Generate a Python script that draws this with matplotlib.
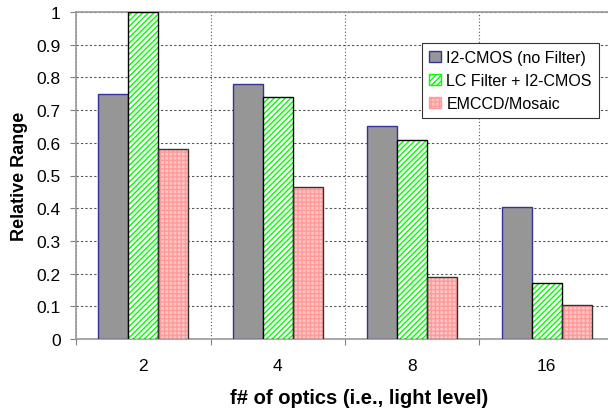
import numpy as np
import matplotlib
matplotlib.use("Agg")
import matplotlib.pyplot as plt
from matplotlib.patches import Patch

plt.rcParams['font.family'] = ['Liberation Sans', 'DejaVu Sans']

# data
categories = ['2', '4', '8', '16']
no_filter = [0.75, 0.78, 0.65, 0.405]
lc_filter = [1.0, 0.74, 0.61, 0.17]
emccd = [0.58, 0.465, 0.19, 0.105]
series_names = ['I2-CMOS (no Filter)', 'LC Filter + I2-CMOS', 'EMCCD/Mosaic']

fig = plt.figure(figsize=(6.08, 4.14), dpi=100)
# plot area runs a little past the right edge of the picture, as in the original
ax = fig.add_axes([76 / 608, 74 / 414, 538 / 608, 327 / 414])

x = np.arange(len(categories))
w = 0.222

ax.bar(x - w, no_filter, w, color='#969696', edgecolor='#333399', linewidth=1, zorder=3)

# green hatched bars: hatch drawn in green, outline in black
ax.bar(x, lc_filter, w, color='white', edgecolor='#00ff00', hatch='//////', linewidth=0, zorder=3)
ax.bar(x, lc_filter, w, fill=False, edgecolor='black', linewidth=1, zorder=4)

# pink dotted bars
ax.bar(x + w, emccd, w, color='#ffc4c4', edgecolor='#ff9a9a', hatch='++++', linewidth=0, zorder=3)
ax.bar(x + w, emccd, w, fill=False, edgecolor='#333333', linewidth=1, zorder=4)

ax.set_xlim(-0.5, 3.5)
ax.set_ylim(0, 1)
ax.set_yticks(np.arange(0, 1.01, 0.1))
ax.set_yticklabels(['0', '0.1', '0.2', '0.3', '0.4', '0.5', '0.6', '0.7', '0.8', '0.9', '1'])

# category boundaries as major ticks, labels on minor ticks
ax.set_xticks([-0.5, 0.5, 1.5, 2.5, 3.5])
ax.set_xticklabels([])
ax.set_xticks(x, minor=True)
ax.set_xticklabels(categories, minor=True)
ax.tick_params(axis='x', which='major', direction='out', length=4, color='#808080')
ax.tick_params(axis='x', which='minor', length=0, pad=14, labelsize=12.5)
ax.tick_params(axis='y', direction='out', length=4, color='#808080', pad=7, labelsize=12.5)

ax.grid(axis='y', linestyle=(0, (2, 2)), color='#555555', linewidth=0.8, zorder=0)
ax.grid(axis='x', which='major', linestyle=(0, (1, 2)), color='#555555', linewidth=0.8, zorder=0)

for side in ['left', 'bottom', 'top']:
    ax.spines[side].set_color('#999999')
    ax.spines[side].set_linewidth(1.2)
ax.spines['right'].set_visible(False)

ax.set_ylabel('Relative Range', fontsize=13, fontweight='bold', labelpad=6)
ax.set_xlabel('f# of optics (i.e., light level)', fontsize=14.5, fontweight='bold', va='center')
ax.xaxis.set_label_coords(0.526, -0.178)

handles = [
    Patch(facecolor='#969696', edgecolor='#333399', label=series_names[0]),
    Patch(facecolor='white', edgecolor='#00ff00', hatch='//////', label=series_names[1]),
    Patch(facecolor='#ffc4c4', edgecolor='#ff9a9a', hatch='++++', label=series_names[2]),
]
leg = ax.legend(handles=handles, loc='upper right', bbox_to_anchor=(599 / 608, 1 - 44 / 414),
                bbox_transform=fig.transFigure, borderaxespad=0, fancybox=False,
                framealpha=1, edgecolor='#333333', fontsize=11.5,
                handlelength=0.75, handleheight=0.75, handletextpad=0.35,
                borderpad=0.45, labelspacing=0.5)
leg.get_frame().set_linewidth(0.8)

fig.savefig('out.png', dpi=100)
